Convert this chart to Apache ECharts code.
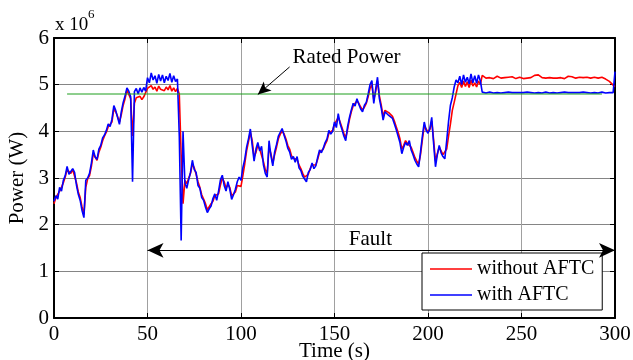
<!DOCTYPE html>
<html>
<head>
<meta charset="utf-8">
<script src="https://cdn.jsdelivr.net/npm/echarts@6/dist/echarts.min.js"></script>
<style>
  html, body { margin: 0; padding: 0; background: #fff; }
  #chart { width: 633px; height: 360px; }
</style>
</head>
<body>
<div id="chart"></div>
<script>
// one sample per second, t = 0 .. 300 s (values in units of 10^6 W)
const timeStep = 1;

const withoutAftc = [
  2.45, 2.58, 2.60, 2.72, 2.80, 2.90, 3.02, 3.18, 3.20, 3.10,
  3.18, 3.15, 2.90, 2.70, 2.58, 2.38, 2.22, 2.80, 2.98, 3.05,
  3.25, 3.52, 3.48, 3.38, 3.55, 3.66, 3.80, 3.90, 3.98, 4.10,
  4.12, 4.20, 4.48, 4.42, 4.32, 4.20, 4.36, 4.56, 4.70, 4.88,
  4.84, 4.70, 3.90, 4.60, 4.72, 4.70, 4.75, 4.68, 4.74, 4.72,
  4.92, 4.88, 4.98, 4.90, 4.95, 4.86, 4.97, 4.90, 4.94, 4.87,
  4.95, 4.89, 4.98, 4.86, 4.93, 4.85, 4.92, 4.80, 3.50, 2.45,
  2.95, 2.88, 2.92, 3.10, 3.30, 3.22, 3.08, 2.92, 2.80, 2.64,
  2.55, 2.45, 2.32, 2.30, 2.45, 2.50, 2.62, 2.58, 2.66, 2.85,
  3.00, 2.92, 2.78, 2.86, 2.80, 2.62, 2.60, 2.70, 2.84, 2.88,
  2.82, 3.05, 3.30, 3.58, 3.78, 3.98, 3.80, 3.45, 3.55, 3.70,
  3.62, 3.64, 3.35, 3.18, 3.10, 3.66, 3.52, 3.32, 3.50, 3.66,
  3.84, 3.94, 4.00, 3.95, 3.84, 3.70, 3.62, 3.48, 3.42, 3.38,
  3.40, 3.28, 3.20, 3.10, 3.02, 2.98, 3.08, 3.20, 3.28, 3.24,
  3.28, 3.40, 3.55, 3.58, 3.62, 3.72, 3.80, 3.96, 3.96, 4.02,
  4.15, 4.12, 4.30, 4.20, 4.08, 3.96, 3.86, 4.04, 4.25, 4.42,
  4.55, 4.58, 4.65, 4.60, 4.52, 4.46, 4.52, 4.60, 4.74, 4.92,
  5.00, 4.68, 4.85, 5.08, 4.76, 4.56, 4.32, 4.45, 4.48, 4.40,
  4.36, 4.32, 4.22, 4.10, 3.98, 3.84, 3.62, 3.70, 3.80, 3.74,
  3.78, 3.66, 3.55, 3.44, 3.36, 3.30, 3.50, 3.82, 4.12, 4.05,
  3.98, 4.04, 4.22, 3.82, 3.36, 3.52, 3.66, 3.58, 3.50, 3.46,
  3.62, 3.90, 4.16, 4.45, 4.62, 4.80, 4.98, 5.05, 4.94, 5.08,
  4.96, 5.06, 4.94, 5.10, 4.97, 5.04, 4.95, 5.08, 5.00, 5.20,
  5.22, 5.14, 5.12, 5.15, 5.16, 5.13, 5.14, 5.18, 5.16, 5.14,
  5.13, 5.15, 5.14, 5.16, 5.19, 5.17, 5.14, 5.13, 5.15, 5.16,
  5.14, 5.13, 5.15, 5.14, 5.16, 5.15, 5.18, 5.20, 5.19, 5.21,
  5.18, 5.15, 5.16, 5.14, 5.13, 5.15, 5.16, 5.14, 5.13, 5.14,
  5.16, 5.15, 5.14, 5.13, 5.16, 5.18, 5.20, 5.17, 5.15, 5.14,
  5.15, 5.16, 5.14, 5.15, 5.17, 5.16, 5.15, 5.14, 5.15, 5.16,
  5.15, 5.14, 5.15, 5.16, 5.14, 5.12, 5.10, 5.07, 5.03, 4.99,
  4.96
];

const withAftc = [
  2.50, 2.62, 2.55, 2.80, 2.72, 2.95, 3.05, 3.25, 3.08, 3.04,
  3.20, 3.12, 2.85, 2.65, 2.52, 2.30, 2.15, 2.95, 3.00, 3.10,
  3.32, 3.60, 3.45, 3.40, 3.62, 3.70, 3.86, 3.92, 4.02, 4.16,
  4.10, 4.26, 4.55, 4.45, 4.30, 4.15, 4.42, 4.62, 4.76, 4.93,
  4.86, 4.74, 2.92, 4.85, 4.92, 4.80, 4.93, 4.84, 4.94, 4.86,
  5.15, 5.04, 5.25, 5.10, 5.19, 5.03, 5.22, 5.08, 5.21, 5.04,
  5.18, 5.09, 5.24, 5.05, 5.19, 5.07, 5.12, 3.90, 1.66, 4.00,
  2.90, 2.78, 2.96, 3.12, 3.38, 3.18, 3.12, 2.84, 2.78, 2.58,
  2.52, 2.38, 2.26, 2.34, 2.40, 2.56, 2.66, 2.52, 2.72, 2.96,
  3.06, 2.84, 2.72, 2.92, 2.76, 2.54, 2.64, 2.76, 2.92, 3.02,
  2.95, 3.22, 3.40, 3.66, 3.84, 4.05, 3.70, 3.36, 3.62, 3.76,
  3.58, 3.68, 3.28, 3.10, 3.02, 3.80, 3.48, 3.26, 3.56, 3.72,
  3.90, 3.98, 4.06, 3.92, 3.80, 3.64, 3.56, 3.40, 3.46, 3.34,
  3.46, 3.22, 3.16, 3.04, 2.98, 2.92, 3.12, 3.18, 3.32, 3.20,
  3.26, 3.44, 3.60, 3.54, 3.64, 3.76, 3.84, 4.02, 3.94, 4.00,
  4.20, 4.08, 4.38, 4.16, 4.04, 3.90, 3.80, 4.10, 4.30, 4.46,
  4.60, 4.54, 4.70, 4.58, 4.48, 4.42, 4.56, 4.62, 4.80, 5.00,
  5.09, 4.60, 4.90, 5.16, 4.70, 4.50, 4.24, 4.42, 4.46, 4.34,
  4.38, 4.28, 4.16, 4.04, 3.90, 3.76, 3.52, 3.66, 3.76, 3.70,
  3.80, 3.60, 3.50, 3.38, 3.30, 3.24, 3.56, 3.90, 4.20, 4.02,
  3.96, 4.06, 4.30, 3.74, 3.24, 3.50, 3.70, 3.54, 3.46, 3.41,
  3.80, 4.22, 4.56, 4.72, 4.95, 5.10, 5.04, 5.18, 5.00, 5.21,
  5.05, 5.16, 5.02, 5.23, 5.04, 5.19, 5.03, 5.21, 5.08, 4.84,
  4.83, 4.82, 4.83, 4.84, 4.83, 4.82, 4.83, 4.83, 4.84, 4.82,
  4.83, 4.83, 4.82, 4.84, 4.83, 4.83, 4.82, 4.83, 4.84, 4.83,
  4.82, 4.83, 4.83, 4.84, 4.82, 4.83, 4.83, 4.82, 4.84, 4.83,
  4.83, 4.82, 4.83, 4.84, 4.83, 4.82, 4.83, 4.83, 4.84, 4.82,
  4.83, 4.83, 4.82, 4.84, 4.83, 4.83, 4.82, 4.83, 4.84, 4.83,
  4.82, 4.83, 4.83, 4.84, 4.82, 4.83, 4.83, 4.82, 4.84, 4.83,
  4.83, 4.82, 4.83, 4.84, 4.83, 4.82, 4.83, 4.83, 4.84, 4.83,
  5.28
];

const ratedPower = 4.8;
const ratedSpan = [7, 293];
const ratedArrowFrom = [126, 5.38];
const ratedArrowTo = [109, 4.79];
const ratedLabelAt = [127.6, 5.59];
const faultLevel = 1.45;
const faultSpan = [50, 300];
const faultLabelAt = [169.2, 1.68];

const FONT = '"Liberation Serif", "Times New Roman", serif';

const toPairs = (values) => values.map((v, i) => [i * timeStep, v]);

const chart = echarts.init(document.getElementById('chart'));

const boxAxis = {
  axisLine: { show: true, onZero: false, lineStyle: { color: '#000', width: 2 } },
  axisTick: { show: true, inside: true, length: 5, lineStyle: { color: '#000', width: 1 } },
};

chart.setOption({
  animation: false,
  textStyle: { fontFamily: FONT, color: '#000' },
  grid: { left: 54, right: 18, top: 38, bottom: 42, outerBoundsMode: 'none' },
  graphic: [
    { type: 'text', left: 55, top: 16, style: { text: 'x 10', fontSize: 19, fontFamily: FONT, fill: '#000' } },
    { type: 'text', left: 88, top: 8, style: { text: '6', fontSize: 13, fontFamily: FONT, fill: '#000' } },
  ],
  legend: {
    data: ['without AFTC', 'with AFTC'],
    orient: 'vertical',
    left: 422,
    top: 253,
    padding: [6, 8, 5, 8],
    itemGap: 6,
    itemWidth: 42,
    itemHeight: 1.5,
    icon: 'rect',
    backgroundColor: '#fff',
    borderColor: '#000',
    borderWidth: 1,
    borderRadius: 0,
    textStyle: { fontFamily: FONT, fontSize: 20, color: '#000', lineHeight: 20 },
  },
  xAxis: [
    {
      type: 'value', min: 0, max: 300, interval: 50, position: 'bottom',
      name: 'Time (s)', nameLocation: 'middle', nameGap: 23, nameMoveOverlap: false,
      nameTextStyle: { fontFamily: FONT, fontSize: 21, color: '#000' },
      ...boxAxis,
      axisLabel: { fontFamily: FONT, fontSize: 21, color: '#000', margin: 6 },
      splitLine: { show: true, lineStyle: { color: '#a0a0a0', width: 1 } },
    },
    {
      type: 'value', min: 0, max: 300, interval: 50, position: 'top',
      ...boxAxis,
      axisLabel: { show: false },
      splitLine: { show: false },
    },
  ],
  yAxis: [
    {
      type: 'value', min: 0, max: 6, interval: 1, position: 'left',
      name: 'Power (W)', nameLocation: 'middle', nameGap: 26, nameMoveOverlap: false,
      nameTextStyle: { fontFamily: FONT, fontSize: 21, color: '#000' },
      ...boxAxis,
      axisLabel: { fontFamily: FONT, fontSize: 21, color: '#000', margin: 5 },
      splitLine: { show: true, lineStyle: { color: '#858585', width: 1 } },
    },
    {
      type: 'value', min: 0, max: 6, interval: 1, position: 'right',
      ...boxAxis,
      axisLabel: { show: false },
      splitLine: { show: false },
    },
  ],
  series: [
    {
      name: 'without AFTC',
      type: 'line',
      data: toPairs(withoutAftc),
      symbol: 'none',
      lineStyle: { color: '#ff0000', width: 1.6 },
      itemStyle: { color: '#ff0000' },
      z: 2,
    },
    {
      name: 'with AFTC',
      type: 'line',
      data: toPairs(withAftc),
      symbol: 'none',
      lineStyle: { color: '#0000ff', width: 1.6 },
      itemStyle: { color: '#0000ff' },
      z: 3,
    },
    {
      name: 'Rated Power',
      type: 'line',
      data: ratedSpan.map((t) => [t, ratedPower]),
      symbol: 'none',
      lineStyle: { color: '#1c9e1c', width: 1 },
      itemStyle: { color: '#1c9e1c' },
      z: 4,
      markLine: {
        silent: true,
        animation: false,
        lineStyle: { color: '#000', width: 1, type: 'solid' },
        label: { show: false },
        data: [
          [
            { coord: ratedArrowFrom, symbol: 'none' },
            { coord: ratedArrowTo, symbol: 'arrow', symbolSize: [9, 13] },
          ],
          [
            { coord: [faultSpan[0], faultLevel], symbol: 'arrow', symbolSize: [11, 16] },
            { coord: [faultSpan[1], faultLevel], symbol: 'arrow', symbolSize: [11, 16] },
          ],
        ],
      },
      markPoint: {
        silent: true,
        symbol: 'circle',
        symbolSize: 0,
        itemStyle: { color: 'rgba(0,0,0,0)' },
        label: { show: true, color: '#000', fontFamily: FONT, fontSize: 21 },
        data: [
          { coord: ratedLabelAt, label: { position: 'right', distance: 0, formatter: 'Rated Power' } },
          { coord: faultLabelAt, label: { position: 'inside', formatter: 'Fault' } },
        ],
      },
    },
  ],
});
</script>
</body>
</html>
